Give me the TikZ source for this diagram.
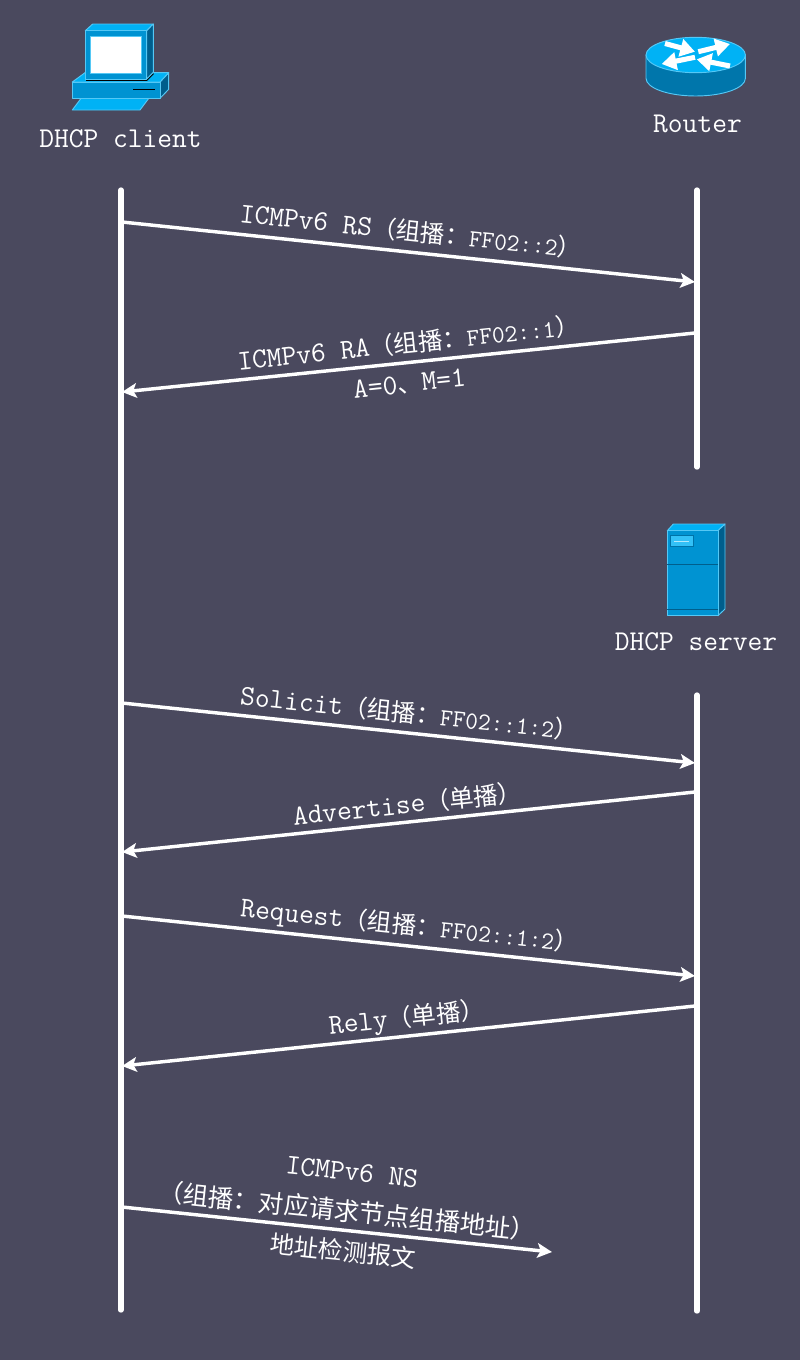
\documentclass[tikz,border=0pt]{standalone}
\usepackage{fontspec}
\usetikzlibrary{arrows.meta}
\newfontfamily\cjkfont{Noto Sans CJK SC}
\newcommand{\zh}[1]{{\cjkfont\fontsize{18.3}{22}\selectfont #1}}
\newcommand{\zhwide}[1]{{\cjkfont\fontsize{19}{22}\selectfont #1}}
\newcommand{\addr}[1]{{\fontsize{18.5}{22}\selectfont #1}}
\definecolor{bgcol}{HTML}{4A495E}
\definecolor{iconfront}{HTML}{0093D2}
\definecolor{icontop}{HTML}{00B2F5}
\definecolor{iconside}{HTML}{005E8C}
\definecolor{iconedge}{HTML}{55C8F5}
\tikzset{
  lifeline/.style={draw=white, line width=4pt, line cap=round},
  msg/.style={draw=white, line width=2.6pt, -{Stealth[length=11pt,width=11pt,inset=2.5pt]}},
  lbl/.style={text=white, font=\ttfamily\fontsize{21.5}{24}\selectfont, inner sep=0pt, align=center},
  face/.style={fill=#1, draw=iconedge, line width=0.7pt, line join=round},
  routerarrow/.style={draw=white, line width=3.8pt, -{Triangle[length=11pt,width=13pt]}}
}
\begin{document}
\begin{tikzpicture}[x=0.75pt, y=-0.75pt]
        \fill[bgcol] (0,0) rectangle (800,1360);
        \useasboundingbox (0,0) rectangle (800,1360);

        % Client icon
        \draw[face=icontop] (72.3,110) -- (82.3,96.7) -- (150,96.7) -- (140,110) -- cycle;
        \draw[face=iconside] (160,82) -- (168.7,72.7) -- (168.7,89.3) -- (160,98.3) -- cycle;
        \draw[face=icontop] (72.3,82) -- (85,72.7) -- (168.7,72.7) -- (160,82) -- cycle;
        \draw[face=iconfront] (72.3,82) rectangle (160,98.3);
        \draw[black, line width=0.9pt] (133.3,89.3) -- (155,89.3);
        \draw[black, line width=1.2pt] (86,80) -- (146.7,80) -- (153.3,73.5);
        \draw[face=icontop] (85.3,30.7) -- (92.7,24) -- (153.3,24) -- (146.7,30.7) -- cycle;
        \draw[face=iconside] (146.7,30.7) -- (153.3,24) -- (153.3,72.3) -- (146.7,79) -- cycle;
        \draw[face=iconfront] (85.3,30.7) rectangle (146.7,79);
        \draw[fill=white, draw=iconedge, line width=0.7pt] (90.3,36.3) rectangle (141.3,73.7);

        % Router icon
        \draw[face=iconfront, fill=iconside!55!iconfront] (646,78.3) arc[start angle=180, end angle=0, x radius=49.7, y radius=17.7] -- (745.4,55) -- (646,55) -- cycle;
        \draw[face=icontop] (695.7,55) ellipse [x radius=49.7, y radius=17.7];
        \draw[routerarrow] (665,43.5) -- (695,51.7);
        \draw[routerarrow] (698.3,51.7) -- (730,44);
        \draw[routerarrow] (695,57.3) -- (661.7,64);
        \draw[routerarrow] (730,66) -- (696.7,59.3);

        % Server icon
        \draw[face=icontop] (667.3,530.7) -- (673.3,524) -- (725,524) -- (718,530.7) -- cycle;
        \draw[face=iconside] (718,530.7) -- (725,524) -- (725,609) -- (718,615.7) -- cycle;
        \draw[face=iconfront] (667.3,530.7) rectangle (718,615.7);
        \draw[iconside, line width=0.8pt] (667.3,564.3) -- (718,564.3);
        \draw[iconside, line width=0.8pt] (667.3,609.3) -- (718,609.3);
        \draw[fill=icontop!80!white, draw=iconside!60!iconfront, line width=0.7pt] (670.7,535.7) rectangle (693.3,546.7);
        \draw[white!70!icontop, line width=0.7pt] (674,541.3) -- (689.3,541.3);

        % Titles
        \node[lbl] (client) at (120.5,139) {DHCP client};
        \node[lbl] (router) at (697.5,124) {Router};
        \node[lbl] (server) at (696,642) {DHCP server};

        % Lifelines
        \coordinate (clienttop) at (121,190);
        \coordinate (clientend) at (121,1310);
        \coordinate (routertop) at (697,190);
        \coordinate (routerend) at (697,467);
        \coordinate (servertop) at (697,695);
        \coordinate (serverend) at (697,1311);
        \draw[lifeline] (clienttop) -- (clientend);
        \draw[lifeline] (routertop) -- (routerend);
        \draw[lifeline] (servertop) -- (serverend);

        % Message ends
        \coordinate (rsA) at (122,222);
        \coordinate (rsB) at (695,282);
        \coordinate (raA) at (695,333);
        \coordinate (raB) at (122,392);
        \coordinate (solA) at (122,703);
        \coordinate (solB) at (695,763);
        \coordinate (advA) at (695,792);
        \coordinate (advB) at (122,852);
        \coordinate (reqA) at (122,916);
        \coordinate (reqB) at (695,976);
        \coordinate (relA) at (695,1006);
        \coordinate (relB) at (122,1066);
        \coordinate (nsA) at (122,1207);
        \coordinate (nsB) at (552,1252);

        % Arrows
        \draw[msg] (rsA) -- (rsB);
        \draw[msg] (raA) -- (raB);
        \draw[msg] (solA) -- (solB);
        \draw[msg] (advA) -- (advB);
        \draw[msg] (reqA) -- (reqB);
        \draw[msg] (relA) -- (relB);
        \draw[msg] (nsA) -- (nsB);

        % Labels
        \node[lbl, rotate=-6] (rslbl) at (411,231) {ICMPv6 RS\zh{（组播：}\addr{FF02::2}\zh{）}};
        \node[lbl, rotate=6] (ralbl) at (408.5,343) {ICMPv6 RA\zh{（组播：}\addr{FF02::1}\zh{）}};
        \node[lbl, rotate=6] (amlbl) at (409.5,384) {A=0\zh{、}M=1};
        \node[lbl, rotate=-6] (sollbl) at (409.5,713) {Solicit\zh{（组播：}\addr{FF02::1:2}\zh{）}};
        \node[lbl, rotate=6] (advlbl) at (407.5,804) {Advertise\zh{（单播）}};
        \node[lbl, rotate=-6] (reqlbl) at (409.5,927) {Request\zh{（组播：}\addr{FF02::1:2}\zh{）}};
        \node[lbl, rotate=6] (rellbl) at (407,1019) {Rely\zh{（单播）}};
        \node[lbl, rotate=-6] (nslbl) at (352,1172) {ICMPv6 NS};
        \node[lbl, rotate=-6] (nsgrp) at (347,1211) {\zhwide{（组播：对应请求节点组播地址）}};
        \node[lbl, rotate=-6] (nschk) at (343,1251) {\zh{地址检测报文}};
    \end{tikzpicture}
\end{document}
